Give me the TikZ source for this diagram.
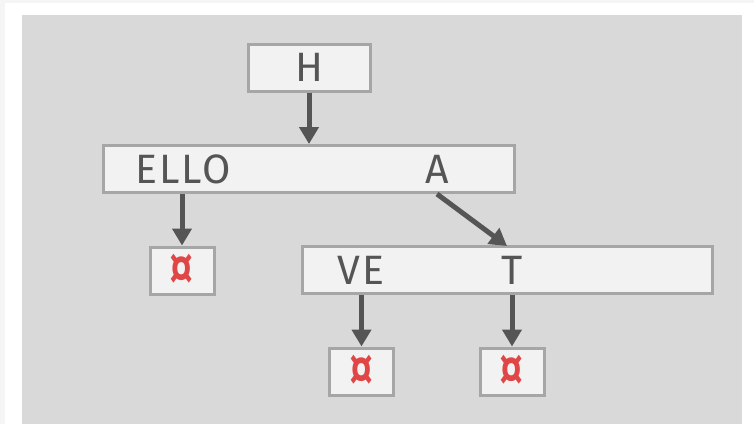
\documentclass[tikz,border=0pt]{standalone}
\usepackage{fontspec}
\setmainfont{Fira Sans}
\newfontfamily\keyfont[LetterSpace=5]{Fira Sans}
\usetikzlibrary{arrows.meta}

\definecolor{panel}{HTML}{D9D9D9}
\definecolor{boxfill}{HTML}{F2F2F2}
\definecolor{boxline}{HTML}{A6A6A6}
\definecolor{ink}{HTML}{555555}
\definecolor{endmark}{HTML}{E04646}

% end-of-word marker
\newcommand{\wordend}{\scalebox{0.9}[1.25]{¤}}

\tikzset{
  trie/.style={draw=boxline, fill=boxfill, line width=3pt, inner sep=0pt,
    minimum height=47pt},
  key/.style={text=ink, font=\keyfont\fontsize{41}{41}\selectfont, inner sep=0pt},
  leaf/.style={trie, minimum width=64pt, text=endmark,
    font=\bfseries\fontsize{44}{44}\selectfont},
  link/.style={draw=ink, line width=5pt,
    -{Triangle[width=19pt,length=17pt]}}
}

\begin{document}
\begin{tikzpicture}[x=1pt,y=-1pt]
  \useasboundingbox (0,0) rectangle (754,424);
  \fill[black!4] (0,0) rectangle (754,424);
  \fill[white] (5,3) rectangle (754,424);
  \fill[panel] (22,15) rectangle (742,424);

  \node[trie, minimum width=122pt] (root) at (309,67.5) {};
  \node[key] (h) at (309,67.5) {H};

  \node[trie, minimum width=411pt] (row1) at (308.5,169) {};
  \node[key] (ello) at (183,169) {ELLO};
  \node[key] (a) at (437,169) {A};

  \node[trie, minimum width=410pt] (row2) at (507,270) {};
  \node[key] (ve) at (361,270) {VE};
  \node[key] (t) at (512,270) {T};

  \node[leaf] (end1) at (182,270.5) {\wordend};
  \node[leaf] (end2) at (361.5,371.5) {\wordend};
  \node[leaf] (end3) at (512,371.5) {\wordend};

  \coordinate (in2) at (507,246);

  \begin{scope}[link]
    \draw (root.south) -- (root.south |- row1.north);
    \draw (end1.north |- row1.south) -- (end1.north);
    \draw (a |- row1.south) -- (in2);
    \draw (end2.north |- row2.south) -- (end2.north);
    \draw (end3.north |- row2.south) -- (end3.north);
  \end{scope}
\end{tikzpicture}
\end{document}
